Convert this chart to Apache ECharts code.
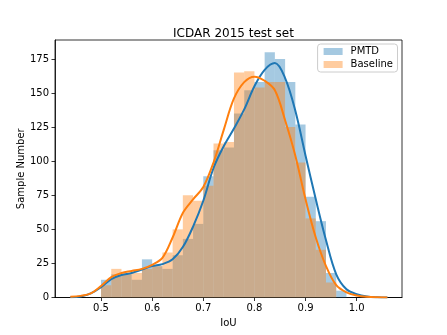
<!DOCTYPE html>
<html>
<head>
<meta charset="utf-8">
<script src="https://cdn.jsdelivr.net/npm/echarts@6/dist/echarts.min.js"></script>
<style>html,body{margin:0;padding:0;background:#fff}#c{width:447px;height:335px}</style>
</head>
<body>
<div id="c"></div>
<script>
const binEdges = [0.50,0.52,0.54,0.56,0.58,0.60,0.62,0.64,0.66,0.68,0.70,0.72,0.74,0.76,0.78,0.80,0.82,0.84,0.86,0.88,0.90,0.92,0.94,0.96,0.98];
const pmtdCounts = [13,17,17,13,28,23,21,31,43,54,89,108,110,135,152,158,180,175,158,127,74,56,18,5];
const baselineCounts = [9,21,18,18,21,23,33,50,75,71,82,113,114,165,166,154,158,158,125,99,58,35,11,0];
const kdeX = [0.44,0.46,0.48,0.50,0.52,0.54,0.56,0.58,0.60,0.62,0.64,0.66,0.68,0.70,0.72,0.74,0.76,0.78,0.80,0.82,0.84,0.86,0.88,0.90,0.92,0.94,0.96,0.98,1.00,1.02,1.04,1.06];
const pmtdKde = [0.2,0.8,3,7.5,13.5,16.5,18,20.5,23,24.5,28,37,52,71,95,111,124,138,155,167,172,161,137,104,72,42,17,6,2.5,0.8,0.2,0];
const baselineKde = [0.5,1.2,3,8.5,15,18,19.5,21,24,29,44,62,72,81,99,123,146,158,162,159,152,130,104,72,44,23,9,3.7,1.5,0.5,0.1,0];
const xTicks = [0.5,0.6,0.7,0.8,0.9,1.0];
const yTicks = [0,25,50,75,100,125,150,175];

const blueFill = 'rgba(31,119,180,0.4)';
const orangeFill = 'rgba(255,127,14,0.4)';

function histData(counts){
  return counts.map((c,i)=>[binEdges[i], binEdges[i+1], c]);
}
function renderBar(params, api){
  const p0 = api.coord([api.value(0), api.value(2)]);
  const p1 = api.coord([api.value(1), 0]);
  return {type:'rect', shape:{x:p0[0], y:p0[1], width:p1[0]-p0[0], height:p1[1]-p0[1]},
          style:{fill: api.visual('color')}};
}
const chart = echarts.init(document.getElementById('c'), null, {renderer:'canvas'});
const font = 'DejaVu Sans';
chart.setOption({
  animation:false,
  textStyle:{fontFamily:font},
  title:{text:'ICDAR 2015 test set', left:228.5, top:23, textAlign:'center',
         textStyle:{fontSize:12, fontWeight:'normal', color:'#000', fontFamily:font}},
  legend:{data:['PMTD','Baseline'], orient:'vertical', right:49.5, top:44,
          itemWidth:19, itemHeight:7, itemGap:3, icon:'rect',
          padding:[2.5,4.5,2.5,6], borderColor:'#cccccc', borderWidth:1, borderRadius:3,
          backgroundColor:'rgba(255,255,255,0.8)',
          textStyle:{fontSize:10, color:'#000', fontFamily:font, padding:[0,0,0,3]}},
  grid:{left:55, top:40, width:347, height:257.5, show:true, borderColor:'#000', borderWidth:0.8, backgroundColor:'transparent'},
  xAxis:{type:'value', min:0.41, max:1.0886,
         axisLine:{show:true, onZero:false, lineStyle:{color:'#000', width:0.8}},
         axisTick:{show:true, length:3.5, customValues:xTicks, lineStyle:{color:'#000', width:0.8}},
         axisLabel:{customValues:xTicks, formatter:v=>v.toFixed(1), fontSize:10, color:'#000', margin:6, fontFamily:font},
         splitLine:{show:false},
         name:'IoU', nameLocation:'middle', nameGap:19, nameTextStyle:{fontSize:10, color:'#000', fontFamily:font}},
  yAxis:{type:'value', min:0, max:188.9,
         axisLine:{show:true, lineStyle:{color:'#000', width:0.8}},
         axisTick:{show:true, length:3.5, customValues:yTicks, lineStyle:{color:'#000', width:0.8}},
         axisLabel:{customValues:yTicks, fontSize:10, color:'#000', margin:6, fontFamily:font},
         splitLine:{show:false},
         name:'Sample Number', nameLocation:'middle', nameGap:29, nameRotate:90, nameMoveOverlap:false,
         nameTextStyle:{fontSize:10, color:'#000', fontFamily:font}},
  series:[
    {name:'PMTD', type:'custom', renderItem:renderBar, encode:{x:[0,1], y:2},
     itemStyle:{color:blueFill}, data:histData(pmtdCounts)},
    {name:'PMTD kde', type:'line', smooth:0.35, showSymbol:false, symbol:'none',
     lineStyle:{color:'#1f77b4', width:2}, itemStyle:{color:'#1f77b4'},
     data:kdeX.map((x,i)=>[x,pmtdKde[i]])},
    {name:'Baseline', type:'custom', renderItem:renderBar, encode:{x:[0,1], y:2},
     itemStyle:{color:orangeFill}, data:histData(baselineCounts)},
    {name:'Baseline kde', type:'line', smooth:0.35, showSymbol:false, symbol:'none',
     lineStyle:{color:'#ff7f0e', width:2}, itemStyle:{color:'#ff7f0e'},
     data:kdeX.map((x,i)=>[x,baselineKde[i]])}
  ]
});
</script>
</body>
</html>
